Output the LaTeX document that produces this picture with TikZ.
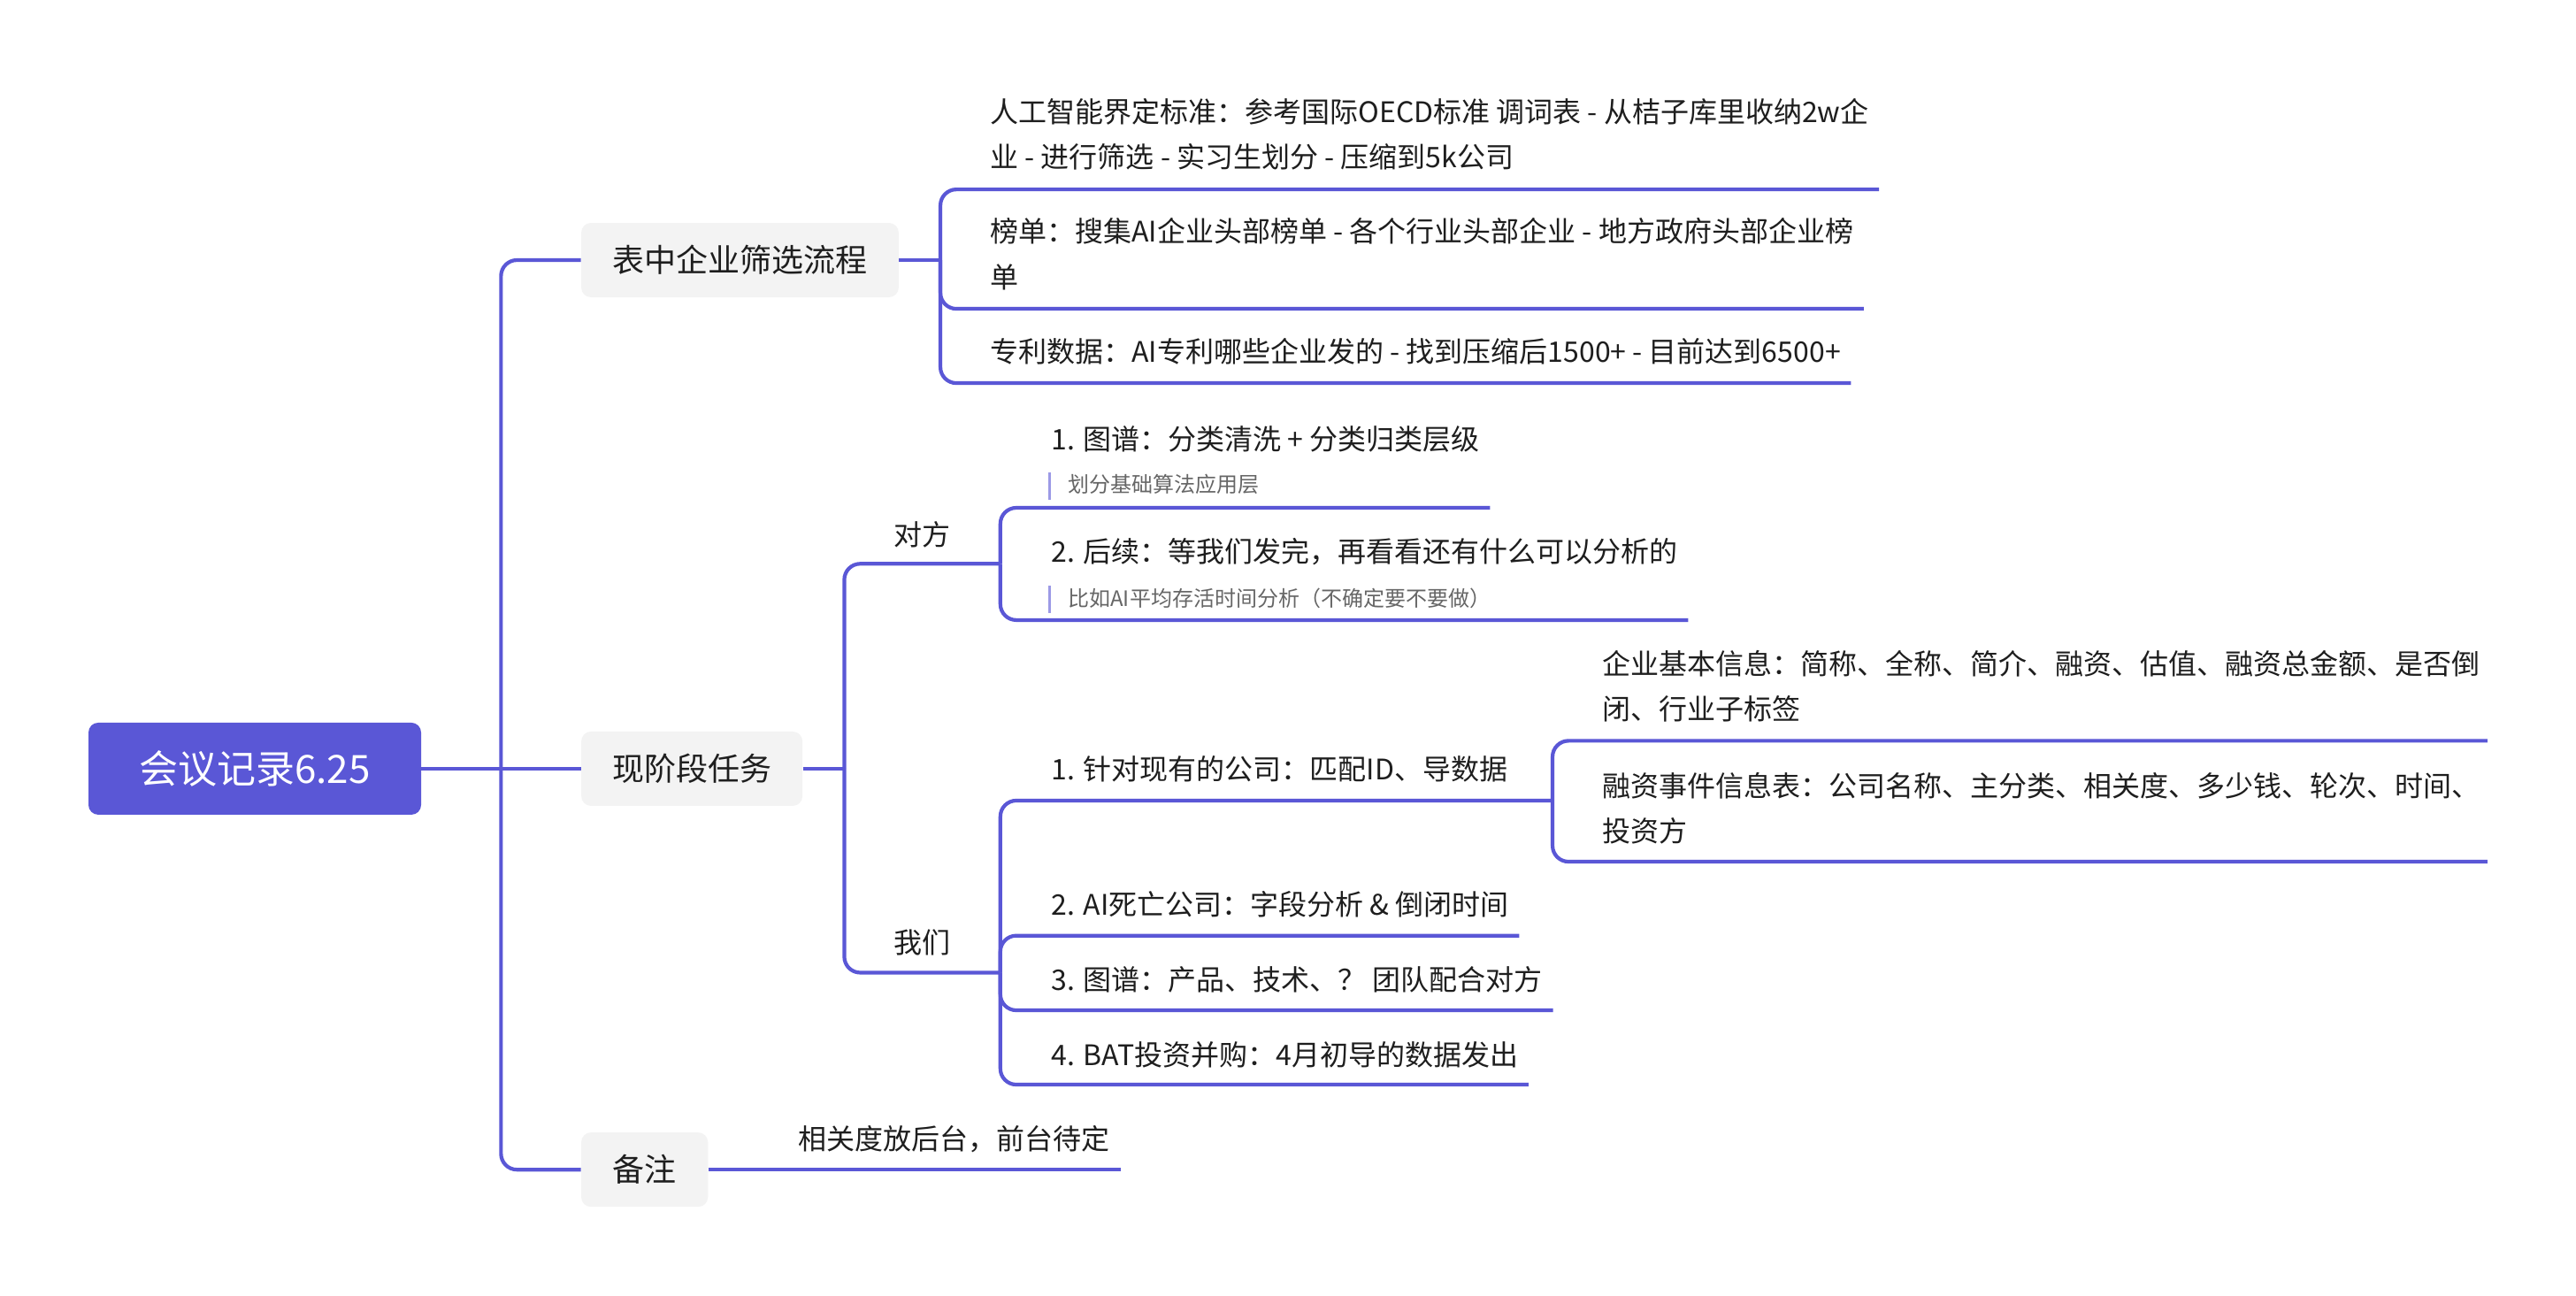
\documentclass[tikz,border=0pt]{standalone}
\usepackage{fontspec}
\setmainfont{Noto Sans CJK SC}
\usetikzlibrary{calc}
\definecolor{pur}{HTML}{5A57D6}
\definecolor{notebar}{HTML}{9C9AE6}
\definecolor{txt}{HTML}{1E1E1E}
\definecolor{notetxt}{HTML}{666666}
\definecolor{boxfill}{HTML}{F3F3F3}
\begin{document}
\begin{tikzpicture}[x=0.93333pt,y=-0.93333pt,
  conn/.style={draw=pur,line width=2.1pt,rounded corners=9pt},
  rootbox/.style={fill=pur,rounded corners=5.5pt,text=white,font=\fontsize{22pt}{26pt}\selectfont,minimum width=188pt,minimum height=52pt,inner sep=0pt},
  brbox/.style={fill=boxfill,rounded corners=5.5pt,text=txt,font=\fontsize{18pt}{22pt}\selectfont,minimum height=42pt,inner sep=0pt},
  item/.style={anchor=base west,inner sep=0pt,text=txt,font=\fontsize{16pt}{25.6pt}\selectfont,align=left},
  note/.style={anchor=base west,inner sep=0pt,text=notetxt,font=\fontsize{12pt}{14pt}\selectfont},
  nbar/.style={draw=notebar,line width=1.3pt}]
\useasboundingbox[fill=white] (0,0) rectangle (1560,784.29);

% root and branches
\node[rootbox] (root) at (154.3,465.5) {会议记录6.25};
\node[brbox,minimum width=179.4pt] (b1) at (448.1,157.5) {表中企业筛选流程};
\node[brbox,minimum width=125pt] (b2) at (419,465.5) {现阶段任务};
\node[brbox,minimum width=71.6pt] (b3) at (390.35,708.3) {备注};

\coordinate (t) at (303.4,465.5);
\draw[conn] (root.east) -- (b2.west);
\draw[conn] (t) |- (b1.west);
\draw[conn] (t) |- (b3.west);

% branch 1 children (base anchor = last line's baseline)
\coordinate (j1) at (569.5,157.5);
\draw[conn] (b1.east) -- (j1);
\node[item] (c1) at (599.5,101.75) {人工智能界定标准：参考国际OECD标准 调词表 - 从桔子库里收纳2w企\\业 - 进行筛选 - 实习生划分 - 压缩到5k公司};
\node[item] (c2) at (599.5,174.15) {榜单：搜集AI企业头部榜单 - 各个行业头部企业 - 地方政府头部企业榜\\单};
\node[item] (c3) at (599.5,219.4) {专利数据：AI专利哪些企业发的 - 找到压缩后1500+ - 目前达到6500+};
\coordinate (k1) at (569.5,114.7);
\coordinate (k2) at (569.5,187);
\coordinate (k3) at (569.5,232);
\coordinate (e1) at ($(c1.east)+(6,0)$);
\coordinate (e2) at ($(c2.east)+(6,0)$);
\coordinate (e3) at ($(c3.east)+(6,0)$);
\draw[conn] (j1) |- (e1 |- k1);
\draw[conn] (j1) |- (e2 |- k2);
\draw[conn] (j1) |- (e3 |- k3);

% branch 2
\coordinate (j2) at (511.3,465.5);
\draw[conn] (b2.east) -- (j2);
\node[item] (df) at (541,330.2) {对方};
\node[item] (wm) at (541,577.3) {我们};
\coordinate (j21) at (605.8,341.4);
\coordinate (j22) at (605.8,589);
\draw[conn] (j2) |- (j21);
\draw[conn] (j2) |- (j22);

% 对方 children
\node[item] (d1) at (636.5,272.3) {1. 图谱：分类清洗 + 分类归类层级};
\node[note] (n1) at (646.6,298.3) {划分基础算法应用层};
\coordinate (n1a) at (635.5,286);
\coordinate (n1b) at (635.5,302.7);
\draw[nbar] (n1a) -- (n1b);
\node[item] (d2) at (636.5,340.3) {2. 后续：等我们发完，再看看还有什么可以分析的};
\node[note] (n2) at (646.6,367.2) {比如AI平均存活时间分析（不确定要不要做）};
\coordinate (n2a) at (635.5,354.7);
\coordinate (n2b) at (635.5,371.4);
\draw[nbar] (n2a) -- (n2b);
\coordinate (ed1) at ($(d1.east)+(6,0)$);
\coordinate (ed2) at ($(d2.east)+(6,0)$);
\coordinate (kd1) at (605.8,307.5);
\coordinate (kd2) at (605.8,375.5);
\draw[conn] (j21) |- (ed1 |- kd1);
\draw[conn] (j21) |- (ed2 |- kd2);

% 我们 children
\node[item] (w1) at (636.5,472.3) {1. 针对现有的公司：匹配ID、导数据};
\node[item] (w2) at (636.5,554.3) {2. AI死亡公司：字段分析 \& 倒闭时间};
\node[item] (w3) at (636.5,599.9) {3. 图谱：产品、技术、？ 团队配合对方};
\node[item] (w4) at (636.5,645.3) {4. BAT投资并购：4月初导的数据发出};
\coordinate (j3) at (940.2,484.8);
\coordinate (ew2) at ($(w2.east)+(6,0)$);
\coordinate (ew3) at ($(w3.east)+(6,0)$);
\coordinate (ew4) at ($(w4.east)+(6,0)$);
\coordinate (kw2) at (605.8,566.6);
\coordinate (kw3) at (605.8,611.8);
\coordinate (kw4) at (605.8,656.8);
\draw[conn] (j22) |- (j3);
\draw[conn] (j22) |- (ew2 |- kw2);
\draw[conn] (j22) |- (ew3 |- kw3);
\draw[conn] (j22) |- (ew4 |- kw4);

% grandchildren
\node[item] (g1) at (970.2,435.85) {企业基本信息：简称、全称、简介、融资、估值、融资总金额、是否倒\\闭、行业子标签};
\node[item] (g2) at (970.2,509.95) {融资事件信息表：公司名称、主分类、相关度、多少钱、轮次、时间、\\投资方};
\coordinate (kg1) at (940.2,448.6);
\coordinate (kg2) at (940.2,521.8);
\coordinate (eg) at (1506.3,448.6);
\draw[conn] (j3) |- (eg |- kg1);
\draw[conn] (j3) |- (eg |- kg2);

% branch 3
\node[item] (r1) at (483.5,696) {相关度放后台，前台待定};
\coordinate (er1) at ($(r1.east)+(6,0)$);
\draw[conn] (b3.east) -- (er1 |- b3.east);
\end{tikzpicture}
\end{document}
